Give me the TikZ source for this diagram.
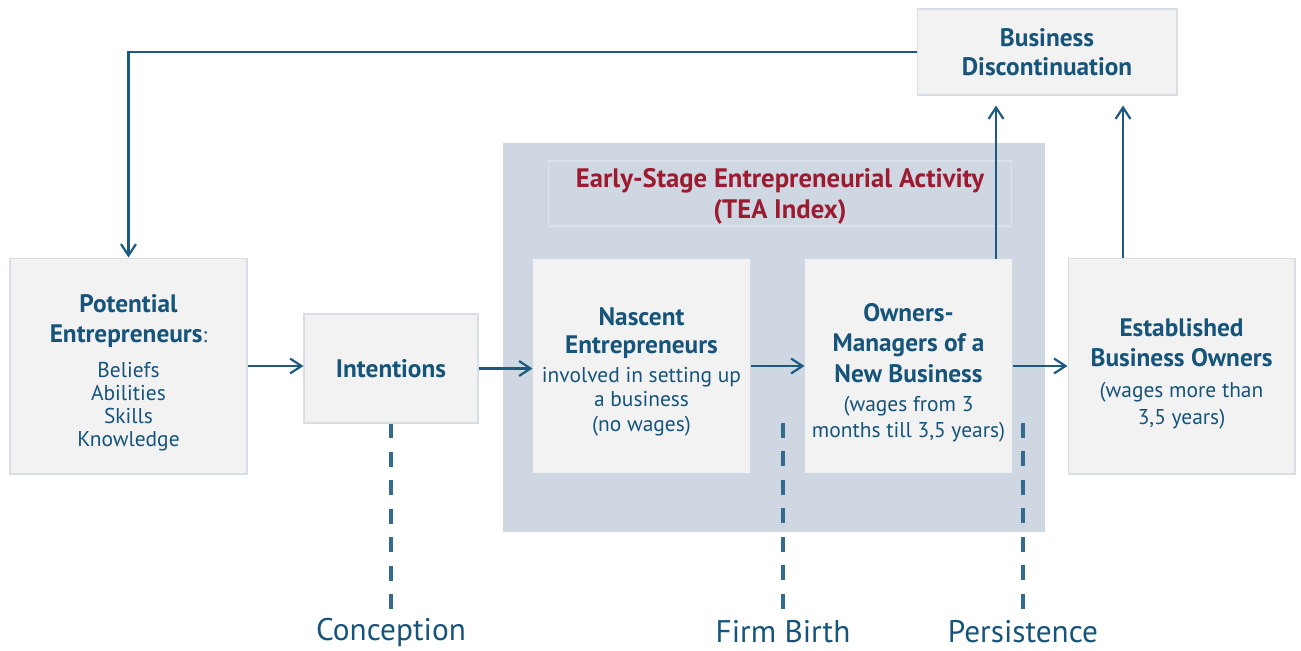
\documentclass[tikz,border=0pt]{standalone}
\usepackage{fontspec}
\setmainfont{PT Sans}
\usetikzlibrary{arrows.meta}
\definecolor{boxfill}{HTML}{F2F2F2}
\definecolor{boxline}{HTML}{D8DEE6}
\definecolor{teafill}{HTML}{CFD8E2}
\definecolor{tealine}{HTML}{DCE2EA}
\definecolor{textblue}{HTML}{165479}
\definecolor{arrowblue}{HTML}{1D5A82}
\definecolor{dashblue}{HTML}{356A90}
\definecolor{teared}{HTML}{9B1B30}
\tikzset{
  stagebox/.style = {inner sep=0pt, draw=boxline, line width=0.6pt, fill=boxfill},
  innerbox/.style = {stagebox, draw=none},
  boxtext/.style = {align=center, inner sep=0pt, text=textblue, font=\fontsize{12.2}{13}\selectfont},
  teaback/.style = {inner sep=0pt, fill=teafill},
  teatitle/.style = {inner sep=0pt, draw=tealine, line width=0.6pt},
  titletext/.style = {align=center, inner sep=0pt, text=teared, font=\fontsize{15.2}{18}\selectfont\bfseries},
  flow/.style = {draw=arrowblue, line width=1.25pt, -{Straight Barb[length=6.5pt,width=8.5pt]}},
  phase/.style = {draw=dashblue, line width=2.3pt, dash pattern=on 8.5pt off 7.7pt},
  phaselabel/.style = {inner sep=1pt, text=textblue, font=\fontsize{17.8}{20}\selectfont}
}
\newcommand{\hd}[1]{{\fontsize{14.4}{17}\selectfont\bfseries #1}}

\begin{document}
\begin{tikzpicture}[x=0.02cm, y=-0.02cm]
  \useasboundingbox (0,0) rectangle (1301,650);
  % TEA background
  \node [teaback, minimum width=10.84cm, minimum height=7.78cm] (tea) at (774,337.5) {};
  \node [teatitle, minimum width=9.28cm, minimum height=1.3cm] (teahead) at (780,193.5) {};
  \node [titletext] (teatxt) at ([yshift=-0.06cm]teahead.center)
    {Early-Stage Entrepreneurial Activity\\(TEA Index)};
  % stages
  \node [stagebox, minimum width=4.74cm, minimum height=4.32cm] (pot) at (128.5,366) {};
  \node [boxtext] (pottxt) at ([yshift=-0.14cm]pot.center)
    {\hd{Potential}\\[4pt]\hd{Entrepreneurs}:\\[7pt]Beliefs\\Abilities\\Skills\\Knowledge};
  \node [stagebox, minimum width=3.48cm, minimum height=2.18cm] (int) at (391,368.5) {};
  \node [boxtext] (inttxt) at (int.center) {\hd{Intentions}};
  \node [innerbox, minimum width=4.34cm, minimum height=4.28cm] (nas) at (641.5,366) {};
  \node [boxtext] (nastxt) at ([yshift=-0.12cm]nas.center)
    {\hd{Nascent}\\[3pt]\hd{Entrepreneurs}\\[3pt]involved in setting up\\[1pt]a business\\[1pt](no wages)};
  \node [innerbox, minimum width=4.14cm, minimum height=4.28cm] (own) at (908.5,366) {};
  \node [boxtext] (owntxt) at ([yshift=-0.14cm]own.center)
    {\hd{Owners-}\\[4pt]\hd{Managers of a}\\[3.5pt]\hd{New Business}\\[3.5pt](wages from 3\\[2pt]months till 3,5 years)};
  \node [stagebox, minimum width=4.54cm, minimum height=4.32cm] (est) at (1181.5,366) {};
  \node [boxtext] (esttxt) at ([yshift=-0.15cm]est.center)
    {\hd{Established}\\[4pt]\hd{Business Owners}\\[5pt](wages more than\\[2pt]3,5 years)};
  \node [stagebox, minimum width=5.2cm, minimum height=1.72cm] (disc) at (1047,52) {};
  \node [boxtext] (disctxt) at (disc.center) {\hd{Business}\\[3.5pt]\hd{Discontinuation}};
  % phase labels
  \node [phaselabel] (conc) at (391,632) {Conception};
  \node [phaselabel] (birth) at (783,632) {Firm Birth};
  \node [phaselabel] (pers) at (1023,632) {Persistence};
  \coordinate (birthtop) at (783,423);
  \coordinate (perstop) at (1023,423);
  % flows
  \draw [flow] (pot.east) -- (pot.east -| int.west);
  \draw [flow] (int.east) -- (int.east -| nas.west);
  \draw [flow] (nas.east) -- (nas.east -| own.west);
  \draw [flow] (own.east) -- (own.east -| est.west);
  \draw [flow, shorten >=0.2cm] ([xshift=-0.33cm]own.north east) -- ([xshift=-0.33cm]own.north east |- disc.south);
  \draw [flow, shorten >=0.2cm] ([xshift=-1.17cm]est.north) -- ([xshift=-1.17cm]est.north |- disc.south);
  \draw [flow] (disc.west) -| (pot.north);
  % phase lines
  \draw [phase] (int.south) -- (conc.north);
  \draw [phase] (birthtop) -- (birth.north);
  \draw [phase] (perstop) -- (pers.north);
\end{tikzpicture}
\end{document}
